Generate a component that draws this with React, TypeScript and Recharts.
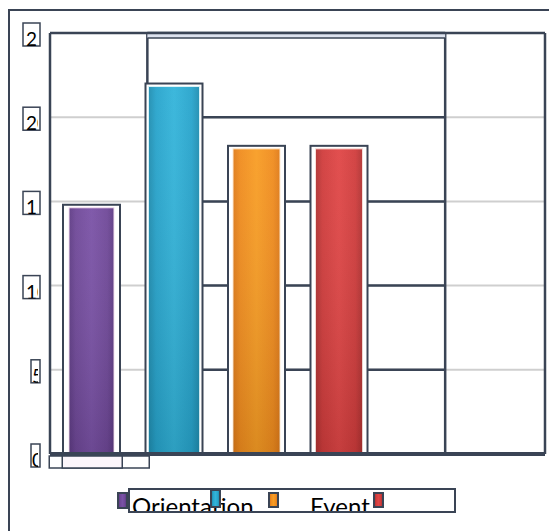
import React from "react";
import { BarChart, Bar, XAxis, YAxis, CartesianGrid, Legend } from "recharts";

// ---- data ----
const categories = ["Orientation", "", "Event", "", "", ""];
const values: (number | null)[] = [14.8, 22.0, 18.3, 18.3, null, null];
const yTicks = [0, 5, 10, 15, 20, 25];
const legendLabels = ["Orientation", "", "Event", ""];

const data = categories.map((name, i) => ({ name, value: values[i] }));

// ---- styles / layout ----
const W = 549;
const H = 523;
const DARK = "#3a4455";
const FONT = "Lato, 'Open Sans', sans-serif";
const palette = [
  { light: "#7a52a6", base: "#6f4898", dark: "#5e3b84", rim: "#f6e2f2" },
  { light: "#33b4da", base: "#27a4cc", dark: "#1f8db0", rim: "#d8f2f8" },
  { light: "#f89d24", base: "#f08c1e", dark: "#df7a18", rim: "#fde8cf" },
  { light: "#e04646", base: "#d03c3c", dark: "#b03232", rim: "#f8ddd8" },
];
const insets = [6, 3, 5, 5];
const MARGIN = { top: 25, right: 12, bottom: 47, left: 0 };
const Y_AXIS_W = 42;
const X_AXIS_H = 30;
const PLOT_LEFT = MARGIN.left + Y_AXIS_W;
const PLOT_RIGHT = W - MARGIN.right;
const PLOT_TOP = MARGIN.top;
const UNIT = (PLOT_RIGHT - PLOT_LEFT) / categories.length;
const BOX_L = PLOT_LEFT + 1.18 * UNIT;
const BOX_R = PLOT_LEFT + 4.79 * UNIT;

const Defs = () => (
  <defs>
    {palette.map((c, i) => (
      <linearGradient key={i} id={`g${i}`} x1="0" y1="0" x2="1" y2="0">
        <stop offset="0%" stopColor={c.dark} />
        <stop offset="15%" stopColor={c.base} />
        <stop offset="50%" stopColor={c.light} />
        <stop offset="85%" stopColor={c.base} />
        <stop offset="100%" stopColor={c.dark} />
      </linearGradient>
    ))}
    {palette.map((c, i) => (
      <linearGradient key={"v" + i} id={`v${i}`} x1="0" y1="0" x2="0" y2="1">
        <stop offset="0%" stopColor="#ffffff" stopOpacity={0.05} />
        <stop offset="100%" stopColor="#000000" stopOpacity={0.12} />
      </linearGradient>
    ))}
  </defs>
);

const BarShape = (props: any) => {
  const { x, y, width, height, index } = props;
  if (height == null || height <= 0) return null;
  const ins = insets[index] ?? 5;
  const c = palette[index] ?? palette[0];
  return (
    <g>
      <rect x={x} y={y} width={width} height={height} fill="#ffffff" stroke={DARK} strokeWidth={2} />
      <rect
        x={x + ins}
        y={y + 3}
        width={width - 2 * ins}
        height={height - 3}
        fill={`url(#g${index})`}
        stroke={c.rim}
        strokeWidth={1}
      />
      <rect x={x + ins} y={y + 3} width={width - 2 * ins} height={height - 3} fill={`url(#v${index})`} />
    </g>
  );
};

const YTick = (props: any) => {
  const { y, payload } = props;
  const label = String(payload.value);
  const twoDigit = label.length > 1;
  const bx = twoDigit ? 15 : 23;
  const bw = twoDigit ? 17 : 9;
  return (
    <g>
      <rect x={bx} y={y - 10} width={bw} height={23} fill="#ffffff" stroke={DARK} strokeWidth={1.5} />
      <svg x={bx} y={y - 10} width={bw - 2} height={23} overflow="hidden">
        <text x={twoDigit ? 3 : 1} y={23} fontFamily={FONT} fontSize={19} fill="#000000">
          {label}
        </text>
      </svg>
    </g>
  );
};

const XTick = (props: any) => {
  const { x, y, index } = props;
  if (index !== 0) return null;
  return (
    <g>
      <rect x={x - 42} y={y + 2} width={100} height={12} fill="#ffffff" stroke={DARK} strokeWidth={1.5} />
      <rect x={x - 29} y={y + 2} width={60} height={12} fill="#fcf6fb" stroke={DARK} strokeWidth={1.5} />
    </g>
  );
};

const legendLayout = [
  { mx: 109, my: 484, mh: 17, tx: 124 },
  { mx: 202, my: 481, mh: 19, tx: 0 },
  { mx: 260, my: 484, mh: 16, tx: 302 },
  { mx: 365, my: 484, mh: 16, tx: 0 },
];

const LegendContent = () => (
  <div style={{ position: "absolute", left: 0, top: 0, width: 0, height: 0 }}>
    <svg
      width={W}
      height={H}
      style={{ position: "absolute", left: 0, top: 0, overflow: "visible", pointerEvents: "none" }}
    >
      <Defs />
      <defs>
        <clipPath id="legclip">
          <rect x={121} y={481} width={326} height={22} />
        </clipPath>
      </defs>
      <rect x={121} y={481} width={326} height={23} fill="#ffffff" stroke={DARK} strokeWidth={2} />
      {legendLabels.map((t, i) =>
        t ? (
          <text
            key={"t" + i}
            x={legendLayout[i].tx}
            y={507}
            fontFamily={FONT}
            fontSize={24}
            fill="#000000"
            clipPath="url(#legclip)"
          >
            {t}
          </text>
        ) : null
      )}
      {legendLabels.map((_, i) => (
        <g key={"m" + i}>
          <rect x={legendLayout[i].mx} y={legendLayout[i].my} width={11} height={legendLayout[i].mh} fill={DARK} />
          <rect
            x={legendLayout[i].mx + 2}
            y={legendLayout[i].my + 2}
            width={7}
            height={legendLayout[i].mh - 4}
            fill={`url(#g${i})`}
          />
        </g>
      ))}
    </svg>
  </div>
);

export default function App() {
  return (
    <div style={{ position: "relative", width: W, height: H }}>
      <BarChart width={W} height={H} data={data} margin={MARGIN} barSize={57}>
        <Defs />
        {/* light full-width gridlines */}
        <CartesianGrid vertical={false} stroke="#cfcfcf" strokeWidth={2} />
        {/* dark inner box with dark gridlines */}
        <CartesianGrid
          x={BOX_L}
          width={BOX_R - BOX_L}
          verticalPoints={[BOX_L, BOX_R]}
          stroke={DARK}
          strokeWidth={2.5}
        />
        {/* double line on top of the inner box */}
        <CartesianGrid
          x={BOX_L}
          y={PLOT_TOP}
          width={BOX_R - BOX_L}
          height={5}
          fill="#dde2ee"
          fillOpacity={1}
          vertical={false}
          horizontalPoints={[PLOT_TOP, PLOT_TOP + 5]}
          stroke={DARK}
          strokeWidth={1.5}
        />
        {/* plot frame */}
        <CartesianGrid
          horizontalPoints={[PLOT_TOP]}
          verticalPoints={[PLOT_LEFT, PLOT_RIGHT]}
          stroke={DARK}
          strokeWidth={2.5}
        />
        <XAxis
          dataKey="name"
          type="category"
          height={X_AXIS_H}
          tickLine={false}
          tickSize={0}
          tickMargin={0}
          interval={0}
          axisLine={{ stroke: DARK, strokeWidth: 4 }}
          tick={<XTick />}
        />
        <YAxis
          domain={[0, 25]}
          ticks={yTicks}
          interval={0}
          width={Y_AXIS_W}
          axisLine={false}
          tickLine={false}
          tick={<YTick />}
        />
        <Bar dataKey="value" isAnimationActive={false} shape={<BarShape />} />
        <Legend
          verticalAlign="bottom"
          content={<LegendContent />}
          wrapperStyle={{ left: 0, top: 0, bottom: "auto", width: W, height: 0, margin: 0 }}
        />
      </BarChart>
      <div
        style={{
          position: "absolute",
          left: 0,
          top: 1,
          width: W,
          height: H - 1,
          boxSizing: "border-box",
          borderLeft: `2.5px solid ${DARK}`,
          borderTop: `2px solid ${DARK}`,
          borderRight: "1px solid #dcdcdc",
          pointerEvents: "none",
        }}
      />
    </div>
  );
}
